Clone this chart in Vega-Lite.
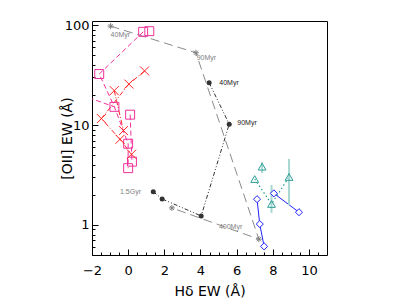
{
  "$schema": "https://vega.github.io/schema/vega-lite/v6.json",
  "width": 235,
  "height": 234,
  "autosize": {"type": "none"},
  "padding": {"left": 92, "top": 21, "right": 93, "bottom": 45},
  "background": "white",
  "config": {
    "view": {"stroke": "#000", "strokeWidth": 1},
    "axis": {
      "grid": false, "domain": false, "labelColor": "#000", "titleColor": "#000", "tickColor": "#000", "tickWidth": 1,
      "labelFont": "DejaVu Sans", "titleFont": "DejaVu Sans", "labelFontSize": 13, "titleFontSize": 14,
      "titleFontWeight": "normal", "labelFlush": false, "labelOverlap": false, "zindex": 2
    }
  },
  "datasets": {
    "gray": [
      {"hd": -0.97, "oii": 97.7, "o": 1}, {"hd": 3.75, "oii": 52.9, "o": 2},
      {"hd": 7.23, "oii": 0.72, "o": 3}, {"hd": 2.42, "oii": 1.48, "o": 4}
    ],
    "dark": [
      {"hd": 4.48, "oii": 26.5, "o": 1}, {"hd": 5.59, "oii": 10.2, "o": 2},
      {"hd": 4.04, "oii": 1.23, "o": 3}, {"hd": 1.88, "oii": 1.82, "o": 4}, {"hd": 1.39, "oii": 2.15, "o": 5}
    ],
    "grayLabels": [
      {"hd": -0.97, "oii": 79.8, "txt": "40Myr"},
      {"hd": 3.79, "oii": 47.1, "txt": "90Myr"},
      {"hd": 5.02, "oii": 0.962, "txt": "400Myr"},
      {"hd": -0.45, "oii": 2.15, "txt": "1.5Gyr"}
    ],
    "darkLabels": [
      {"hd": 5.04, "oii": 26.1, "txt": "40Myr"},
      {"hd": 6.04, "oii": 10.6, "txt": "90Myr"}
    ],
    "magLines": [
      {"g": 1, "o": 1, "hd": 0.83, "oii": 85.7}, {"g": 1, "o": 2, "hd": -1.6, "oii": 32.4},
      {"g": 1, "o": 3, "hd": -0.76, "oii": 15.2}, {"g": 1, "o": 4, "hd": 0.0, "oii": 6.5},
      {"g": 1, "o": 5, "hd": 0.0, "oii": 3.7},
      {"g": 2, "o": 1, "hd": -2.6, "oii": 20}, {"g": 2, "o": 2, "hd": -0.76, "oii": 15.2},
      {"g": 3, "o": 1, "hd": 0.11, "oii": 12.7}, {"g": 3, "o": 2, "hd": 0.21, "oii": 4.3}
    ],
    "magPts": [
      {"hd": 0.83, "oii": 85.7}, {"hd": 1.17, "oii": 87}, {"hd": -1.6, "oii": 32.4},
      {"hd": -0.76, "oii": 15.2}, {"hd": 0.11, "oii": 12.7}, {"hd": 0.0, "oii": 6.5},
      {"hd": 0.21, "oii": 4.3}, {"hd": 0.0, "oii": 3.7}
    ],
    "redLines": [
      {"g": 1, "o": 1, "hd": 0.91, "oii": 34.8}, {"g": 1, "o": 2, "hd": 0.04, "oii": 25.7},
      {"g": 1, "o": 3, "hd": -1.48, "oii": 11.6}, {"g": 1, "o": 4, "hd": -0.45, "oii": 7.2},
      {"g": 1, "o": 5, "hd": 0.19, "oii": 5.1},
      {"g": 2, "o": 1, "hd": -0.77, "oii": 22.1}, {"g": 2, "o": 2, "hd": -0.26, "oii": 8.8}
    ],
    "redPts": [
      {"hd": 0.91, "oii": 34.8}, {"hd": 0.04, "oii": 25.7}, {"hd": -0.77, "oii": 22.1},
      {"hd": -1.48, "oii": 11.6}, {"hd": -0.26, "oii": 8.8}, {"hd": -0.45, "oii": 7.2}, {"hd": 0.19, "oii": 5.1}
    ],
    "blue": [
      {"g": 1, "o": 1, "hd": 7.13, "oii": 1.81}, {"g": 1, "o": 2, "hd": 7.28, "oii": 1.02},
      {"g": 1, "o": 3, "hd": 7.52, "oii": 0.61},
      {"g": 2, "o": 1, "hd": 8.06, "oii": 2.07}, {"g": 2, "o": 2, "hd": 9.45, "oii": 1.34}
    ],
    "tealLine": [
      {"o": 1, "hd": 7.0, "oii": 2.88}, {"o": 2, "hd": 7.93, "oii": 1.62}, {"o": 3, "hd": 8.9, "oii": 3.02}
    ],
    "tealPts": [
      {"hd": 7.41, "oii": 3.83, "lo": 3.31, "hi": 4.27},
      {"hd": 7.0, "oii": 2.88, "lo": null, "hi": null},
      {"hd": 7.93, "oii": 1.62, "lo": 1.32, "hi": 2.51},
      {"hd": 8.9, "oii": 3.02, "lo": 1.58, "hi": 4.57}
    ]
  },
  "resolve": {"axis": {"x": "independent", "y": "independent"}},
  "layer": [
    {
      "data": {"name": "gray"},
      "mark": {"type": "line", "color": "#8a8a8a", "strokeDash": [9, 5], "strokeWidth": 1},
      "encoding": {
        "x": {"field": "hd", "type": "quantitative", "scale": {"domain": [-2, 11], "nice": false, "zero": false},
          "axis": {"orient": "bottom",
            "values": [-2, -1.5, -1, -0.5, 0, 0.5, 1, 1.5, 2, 2.5, 3, 3.5, 4, 4.5, 5, 5.5, 6, 6.5, 7, 7.5, 8, 8.5, 9, 9.5, 10, 10.5],
            "tickSize": -6,
            "tickDash": {"condition": {"test": "datum.value % 2 !== 0", "value": [3, 20]}, "value": [10, 0]},
            "labelExpr": "datum.value % 2 === 0 ? format(datum.value, 'd') : ''",
            "labelPadding": 15, "title": "Hδ  EW (Å)", "titlePadding": 7}},
        "y": {"field": "oii", "type": "quantitative", "scale": {"type": "log", "domain": [0.5, 110], "nice": false},
          "axis": {"orient": "left",
            "values": [0.5, 0.6, 0.7, 0.8, 0.9, 1, 2, 3, 4, 5, 6, 7, 8, 9, 10, 20, 30, 40, 50, 60, 70, 80, 90, 100],
            "tickSize": -6,
            "tickDash": {"condition": {"test": "datum.value !== 1 && datum.value !== 10 && datum.value !== 100", "value": [3, 20]}, "value": [10, 0]},
            "labelExpr": "(datum.value === 1 || datum.value === 10 || datum.value === 100) ? format(datum.value, 'd') : ''",
            "labelPadding": 9, "title": "[OII]  EW (Å)", "titlePadding": -10}},
        "order": {"field": "o"}
      }
    },
    {
      "layer": [
        {
          "data": {"name": "dark"},
          "mark": {"type": "line", "color": "#333333", "strokeDash": [4, 2, 1, 2, 1, 2], "strokeWidth": 1},
          "encoding": {
            "x": {"field": "hd", "type": "quantitative", "axis": {"orient": "top",
                "values": [-2, -1.5, -1, -0.5, 0, 0.5, 1, 1.5, 2, 2.5, 3, 3.5, 4, 4.5, 5, 5.5, 6, 6.5, 7, 7.5, 8, 8.5, 9, 9.5, 10, 10.5],
                "tickSize": -6,
                "tickDash": {"condition": {"test": "datum.value % 2 !== 0", "value": [3, 20]}, "value": [10, 0]},
                "labels": false, "title": null}},
            "y": {"field": "oii", "type": "quantitative", "axis": {"orient": "right",
                "values": [0.5, 0.6, 0.7, 0.8, 0.9, 1, 2, 3, 4, 5, 6, 7, 8, 9, 10, 20, 30, 40, 50, 60, 70, 80, 90, 100],
                "tickSize": -6,
                "tickDash": {"condition": {"test": "datum.value !== 1 && datum.value !== 10 && datum.value !== 100", "value": [3, 20]}, "value": [10, 0]},
                "labels": false, "title": null}},
            "order": {"field": "o"}
          }
        },
        {
          "data": {"name": "magLines"},
          "mark": {"type": "line", "color": "#f0309a", "strokeDash": [5, 3], "strokeWidth": 1, "clip": true},
          "encoding": {
            "x": {"field": "hd", "type": "quantitative", "axis": null},
            "y": {"field": "oii", "type": "quantitative", "axis": null},
            "detail": {"field": "g"},
            "order": {"field": "o"}
          }
        },
        {
          "data": {"name": "redLines"},
          "mark": {"type": "line", "color": "#ff2424", "strokeDash": [5, 2, 1, 2], "strokeWidth": 1},
          "encoding": {
            "x": {"field": "hd", "type": "quantitative", "axis": null},
            "y": {"field": "oii", "type": "quantitative", "axis": null},
            "detail": {"field": "g"},
            "order": {"field": "o"}
          }
        },
        {
          "data": {"name": "blue"},
          "mark": {"type": "line", "color": "#2222ff", "strokeWidth": 1},
          "encoding": {
            "x": {"field": "hd", "type": "quantitative", "axis": null},
            "y": {"field": "oii", "type": "quantitative", "axis": null},
            "detail": {"field": "g"},
            "order": {"field": "o"}
          }
        },
        {
          "data": {"name": "tealLine"},
          "mark": {"type": "line", "color": "#2a9d94", "strokeDash": [1.5, 2.5], "strokeWidth": 1.2},
          "encoding": {
            "x": {"field": "hd", "type": "quantitative", "axis": null},
            "y": {"field": "oii", "type": "quantitative", "axis": null},
            "order": {"field": "o"}
          }
        },
        {
          "data": {"name": "tealPts"},
          "transform": [{"filter": "datum.lo != null"}],
          "mark": {"type": "rule", "color": "#a6d8d2", "strokeWidth": 2},
          "encoding": {
            "x": {"field": "hd", "type": "quantitative", "axis": null},
            "y": {"field": "lo", "type": "quantitative", "axis": null},
            "y2": {"field": "hi"}
          }
        },
        {
          "data": {"name": "gray"},
          "mark": {"type": "point", "shape": "M-1,0L1,0M0,-1L0,1M-0.7,-0.7L0.7,0.7M-0.7,0.7L0.7,-0.7", "size": 36, "filled": false, "color": "#808080", "strokeWidth": 1, "opacity": 1},
          "encoding": {
            "x": {"field": "hd", "type": "quantitative", "axis": null},
            "y": {"field": "oii", "type": "quantitative", "axis": null}
          }
        },
        {
          "data": {"name": "dark"},
          "mark": {"type": "point", "shape": "circle", "size": 25, "filled": true, "color": "#333333", "opacity": 1},
          "encoding": {
            "x": {"field": "hd", "type": "quantitative", "axis": null},
            "y": {"field": "oii", "type": "quantitative", "axis": null}
          }
        },
        {
          "data": {"name": "magPts"},
          "mark": {"type": "point", "shape": "square", "size": 80, "filled": false, "color": "#f0309a", "strokeWidth": 1, "opacity": 1},
          "encoding": {
            "x": {"field": "hd", "type": "quantitative", "axis": null},
            "y": {"field": "oii", "type": "quantitative", "axis": null}
          }
        },
        {
          "data": {"name": "redPts"},
          "mark": {"type": "point", "shape": "M-1,-1L1,1M-1,1L1,-1", "size": 81, "filled": false, "color": "#ff2424", "strokeWidth": 1, "opacity": 1},
          "encoding": {
            "x": {"field": "hd", "type": "quantitative", "axis": null},
            "y": {"field": "oii", "type": "quantitative", "axis": null}
          }
        },
        {
          "data": {"name": "blue"},
          "mark": {"type": "point", "shape": "diamond", "size": 50, "filled": true, "fill": "white", "stroke": "#2222ff", "strokeWidth": 1, "opacity": 1},
          "encoding": {
            "x": {"field": "hd", "type": "quantitative", "axis": null},
            "y": {"field": "oii", "type": "quantitative", "axis": null}
          }
        },
        {
          "data": {"name": "tealPts"},
          "mark": {"type": "point", "shape": "triangle-up", "size": 60, "filled": false, "color": "#2a9d94", "strokeWidth": 1, "opacity": 1},
          "encoding": {
            "x": {"field": "hd", "type": "quantitative", "axis": null},
            "y": {"field": "oii", "type": "quantitative", "axis": null}
          }
        },
        {
          "data": {"name": "grayLabels"},
          "mark": {"type": "text", "align": "left", "baseline": "middle", "font": "Liberation Sans", "fontSize": 7, "color": "#808080"},
          "encoding": {
            "x": {"field": "hd", "type": "quantitative", "axis": null},
            "y": {"field": "oii", "type": "quantitative", "axis": null},
            "text": {"field": "txt"}
          }
        },
        {
          "data": {"name": "darkLabels"},
          "mark": {"type": "text", "align": "left", "baseline": "middle", "font": "Liberation Sans", "fontSize": 7, "color": "#1a1a1a"},
          "encoding": {
            "x": {"field": "hd", "type": "quantitative", "axis": null},
            "y": {"field": "oii", "type": "quantitative", "axis": null},
            "text": {"field": "txt"}
          }
        }
      ]
    }
  ]
}
